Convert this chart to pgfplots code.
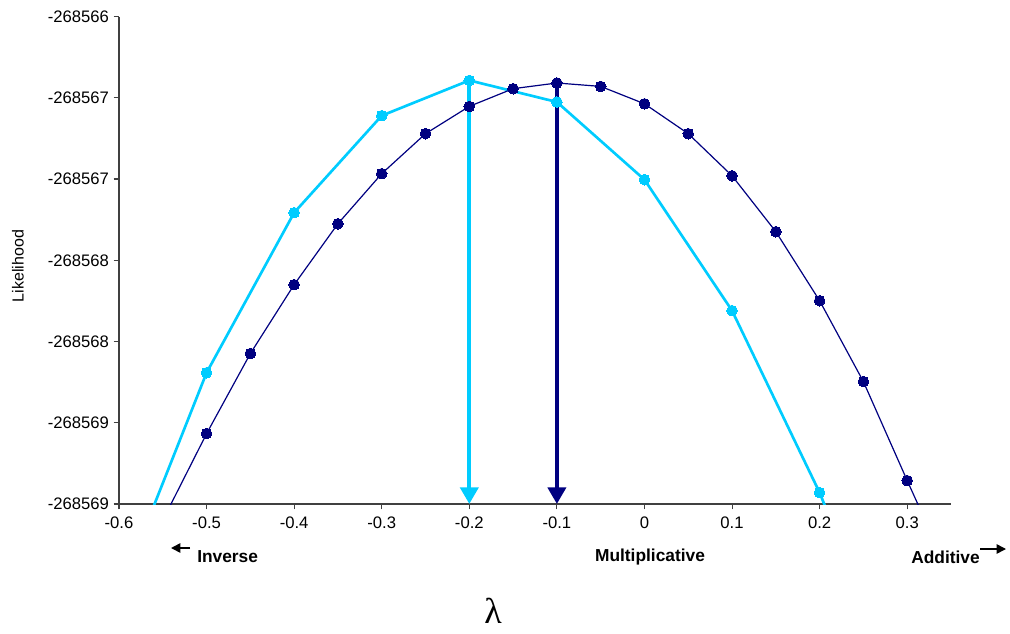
\documentclass[border=0pt]{standalone}
\usepackage{pgfplots}
\pgfplotsset{compat=1.18}
\usetikzlibrary{arrows.meta}
\usepackage{fontspec}
\setmainfont{Liberation Sans}
\newfontfamily\seriffont{Liberation Serif}
\definecolor{skyc}{RGB}{0,204,255}
\definecolor{navyc}{RGB}{0,0,128}
\begin{document}
\begin{tikzpicture}
% pixel frame: (0,0) = top-left of 1010x633 image
\begin{scope}[shift={(-89.25pt,378pt)}, x=0.75pt, y=-0.75pt]
\path[use as bounding box] (0,0) rectangle (1010,633);
\end{scope}
\begin{axis}[
  scale only axis,
  width=624pt, height=365.6pt,
  xmin=-0.6, xmax=0.35,
  ymin=0, ymax=3,
  axis x line=bottom, axis y line=left,
  axis line style={-, black!75, line width=0.8pt},
  xtick={-0.6,-0.5,-0.4,-0.3,-0.2,-0.1,0,0.1,0.2,0.3},
  ytick={0,0.5,1,1.5,2,2.5,3},
  yticklabels={-268569,-268569,-268568,-268568,-268567,-268567,-268566},
  tick align=outside,
  major tick length=4pt,
  tick style={black!75, line width=0.8pt},
  /pgf/number format/assume math mode=true,
  ticklabel style={font=\fontsize{12.5}{14}\selectfont},
  xticklabel style={yshift=-2pt},
]
% cyan series
\addplot[skyc, line width=2pt, mark=*, mark size=4pt, mark options={fill=skyc, draw=skyc, line width=0pt}]
  coordinates {(-0.6,-0.552) (-0.5,0.808) (-0.4,1.793) (-0.3,2.390) (-0.2,2.607)
               (-0.1,2.474) (0,1.996) (0.1,1.190) (0.2,0.070) (0.3,-1.276)};
% navy series
\addplot[navyc, line width=0.9pt, mark=*, mark size=4pt, mark options={fill=navyc, draw=navyc, line width=0pt}]
  coordinates {(-0.55,-0.10) (-0.5,0.433) (-0.45,0.926) (-0.4,1.350) (-0.35,1.725)
               (-0.3,2.033) (-0.25,2.279) (-0.2,2.447) (-0.15,2.556) (-0.1,2.591)
               (-0.05,2.570) (0,2.463) (0.05,2.279) (0.1,2.020) (0.15,1.676)
               (0.2,1.251) (0.25,0.753) (0.3,0.144) (0.35,-0.451)};
% arrows
\addplot[skyc, line width=3pt, -{Triangle[width=13.5pt,length=12.5pt]}]
  coordinates {(-0.2,2.607) (-0.2,0)};
\addplot[navyc, line width=3pt, -{Triangle[width=13.5pt,length=12.5pt]}]
  coordinates {(-0.1,2.591) (-0.1,0)};
\end{axis}
\begin{scope}[shift={(-89.25pt,378pt)}, x=0.75pt, y=-0.75pt]
\node[rotate=90, inner sep=0pt, font=\fontsize{12}{14}\selectfont] at (18,266) {Likelihood};
\draw[line width=1.2pt, -{Triangle[width=7pt,length=7pt]}] (190,548) -- (171,548);
\node[anchor=west, inner sep=0pt, font=\fontsize{13}{15}\selectfont\bfseries] at (197,557) {Inverse};
\node[inner sep=0pt, font=\fontsize{13}{15}\selectfont\bfseries] at (650,557) {Multiplicative};
\node[anchor=east, inner sep=0pt, font=\fontsize{13}{15}\selectfont\bfseries] at (980,557) {Additive};
\draw[line width=1.2pt, -{Triangle[width=7pt,length=7pt]}] (980,549) -- (1006,549);
\node[inner sep=0pt, font=\seriffont\fontsize{27}{29}\selectfont] at (493,611) {λ};
\end{scope}
\end{tikzpicture}
\end{document}
